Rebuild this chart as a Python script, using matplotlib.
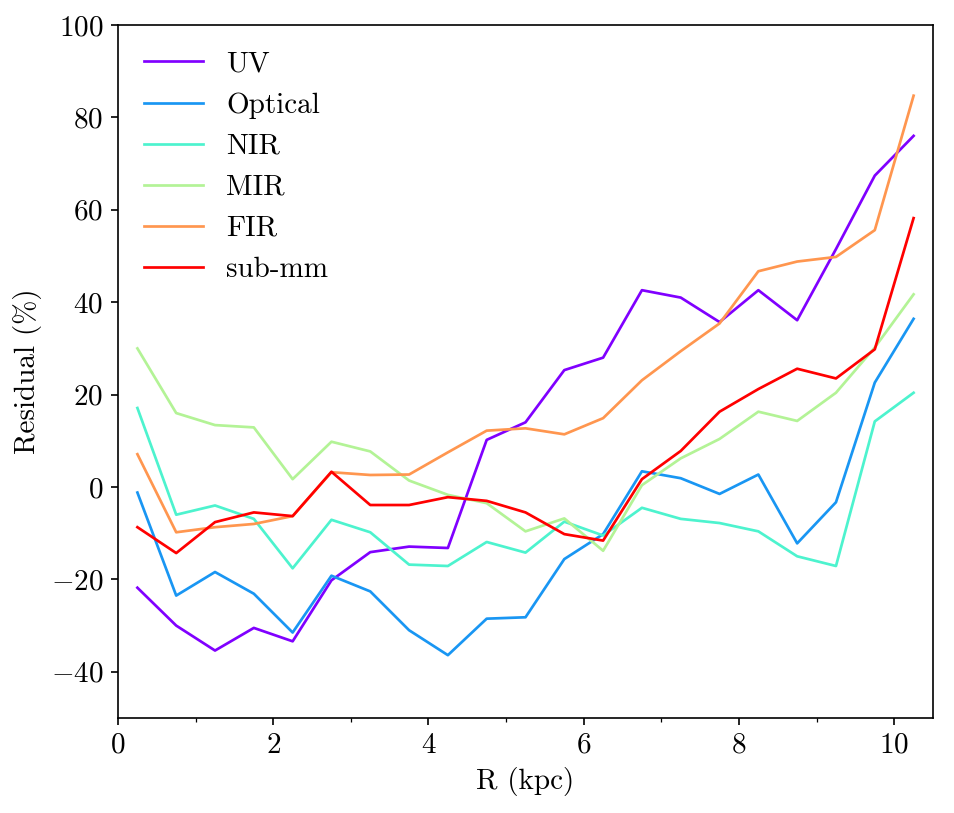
import numpy as np
import matplotlib
matplotlib.use("Agg")
import matplotlib.pyplot as plt
from matplotlib.ticker import MultipleLocator

plt.rcParams['font.family'] = ['cmr10', 'DejaVu Serif']
plt.rcParams['mathtext.fontset'] = 'cm'
plt.rcParams['axes.formatter.use_mathtext'] = True
plt.rcParams['font.size'] = 14
plt.rcParams['axes.unicode_minus'] = True

R = [0.25, 0.75, 1.25, 1.75, 2.25, 2.75, 3.25, 3.75, 4.25, 4.75, 5.25,
     5.75, 6.25, 6.75, 7.25, 7.75, 8.25, 8.75, 9.25, 9.75, 10.25]

labels = ["UV", "Optical", "NIR", "MIR", "FIR", "sub-mm"]

uv = [-21.8, -30.0, -35.4, -30.5, -33.4, -20.2, -14.1, -12.9, -13.2, 10.2, 14.0,
      25.3, 28.0, 42.6, 41.0, 35.7, 42.6, 36.1, 51.5, 67.4, 76.0]
optical = [-1.2, -23.5, -18.4, -23.1, -31.5, -19.2, -22.6, -31.0, -36.4, -28.5, -28.2,
           -15.6, -10.2, 3.4, 1.9, -1.5, 2.7, -12.2, -3.3, 22.6, 36.4]
nir = [17.1, -6.0, -4.0, -6.9, -17.6, -7.1, -9.8, -16.8, -17.1, -11.9, -14.2,
       -7.5, -10.5, -4.5, -6.9, -7.8, -9.6, -15.0, -17.1, 14.2, 20.4]
mir = [30.0, 16.0, 13.4, 12.9, 1.7, 9.8, 7.7, 1.4, -1.7, -3.5, -9.6,
       -6.8, -13.8, 0.4, 6.2, 10.4, 16.3, 14.3, 20.4, 30.2, 41.7]
fir = [7.1, -9.8, -8.7, -8.0, -6.3, 3.2, 2.6, 2.7, 7.5, 12.2, 12.7,
       11.4, 14.9, 23.1, 29.4, 35.4, 46.7, 48.8, 49.8, 55.6, 84.7]
submm = [-8.7, -14.3, -7.6, -5.5, -6.3, 3.3, -3.9, -3.9, -2.2, -3.0, -5.5,
         -10.2, -11.6, 1.7, 7.8, 16.3, 21.2, 25.6, 23.5, 29.8, 58.2]

series = [uv, optical, nir, mir, fir, submm]
colors = plt.cm.rainbow(np.linspace(0, 1, len(series)))

fig = plt.figure(figsize=(955/150, 813/150), dpi=150)
ax = fig.add_axes([118/955, 1 - 718/813, (933 - 118)/955, (718 - 25)/813])

for s, lab, c in zip(series, labels, colors):
    ax.plot(R, s, color=c, lw=1.3, label=lab)

ax.set_xlim(0, 10.5)
ax.set_ylim(-50, 100)
ax.xaxis.set_major_locator(MultipleLocator(2))
ax.xaxis.set_minor_locator(MultipleLocator(1))
ax.yaxis.set_major_locator(MultipleLocator(20))
ax.set_xlabel("R (kpc)")
ax.set_ylabel("Residual (%)")
ax.legend(loc='upper left', frameon=False)

fig.savefig("out.png", dpi=150)
